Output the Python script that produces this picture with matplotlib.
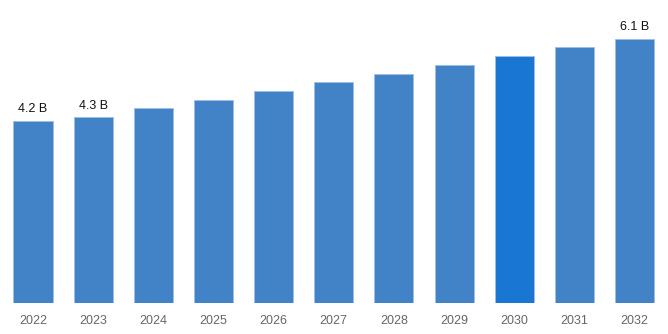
import matplotlib
matplotlib.use("Agg")
import matplotlib.pyplot as plt

plt.rcParams['font.family'] = ['Liberation Sans', 'DejaVu Sans']

years = ["2022", "2023", "2024", "2025", "2026", "2027", "2028", "2029", "2030", "2031", "2032"]
values = [4.2, 4.29, 4.5, 4.68, 4.89, 5.1, 5.28, 5.49, 5.7, 5.91, 6.1]
labels = {0: "4.2 B", 1: "4.3 B", 10: "6.1 B"}
highlight = "2030"

base_color = "#4282c6"
highlight_color = "#1976d2"
colors = [highlight_color if y == highlight else base_color for y in years]

fig = plt.figure(figsize=(6.68, 3.34), dpi=100)
ax = fig.add_axes([0, 31 / 334, 1, 303 / 334])

x = list(range(len(years)))
bars = ax.bar(x, values, width=0.65, color=colors, edgecolor="#9dbfe6", linewidth=0.6)

for i, text in labels.items():
    ax.annotate(text, (x[i], values[i]), xytext=(0, 4), textcoords="offset points",
                ha="center", va="bottom", fontsize=9, color="#111111")

ax.set_xlim(-33 / 60.15, (668 - 33) / 60.15)
ax.set_ylim(0, 303 * 4.2 / 182)
ax.set_xticks(x)
ax.set_xticklabels(years, fontsize=9, color="#666666")
ax.tick_params(axis="x", length=0, pad=8.5)
ax.set_yticks([])
for s in ax.spines.values():
    s.set_visible(False)

fig.savefig("out.png", dpi=100)
